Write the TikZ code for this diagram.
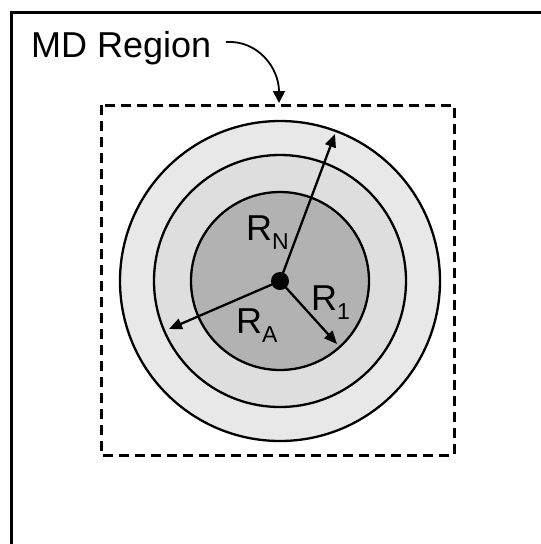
\documentclass[tikz,border=0pt]{standalone}
\usepackage{fontspec}
\setmainfont{Liberation Sans}
\usetikzlibrary{arrows.meta}
\tikzset{
  ring/.style={draw=black, line width=2.3pt},
  radius arrow/.style={line width=2.3pt, -{Triangle[length=13pt,width=11pt]}},
  lbl/.style={anchor=base west, inner sep=0pt, font=\fontsize{36}{36}\selectfont},
  frame/.style={line width=3pt},
  mdbox/.style={line width=3pt, dash pattern=on 10pt off 6pt},
}
\newcommand{\sbs}[1]{\raisebox{-9pt}{\fontsize{23}{23}\selectfont #1}}
\begin{document}
\begin{tikzpicture}[x=1pt,y=-1pt]
\useasboundingbox (0,0) rectangle (541,544);
% frame (left and top edges visible)
\draw[frame] (11.5,544) -- (11.5,12.5) -- (541,12.5);
% dashed MD region
\draw[mdbox] (101,105) rectangle (454,455);
% rings
\coordinate (c) at (280,281);
\fill[black!9] (c) circle (160);
\draw[ring] (c) circle (160);
\fill[black!13] (c) circle (126);
\draw[ring] (c) circle (126);
\fill[black!30] (c) circle (89);
\draw[ring] (c) circle (89);
% radius arrows
\coordinate (rn) at (335,134);
\coordinate (r1) at (337,344);
\coordinate (ra) at (169,329);
\draw[radius arrow] (c) -- (rn);
\draw[radius arrow] (c) -- (r1);
\draw[radius arrow] (c) -- (ra);
\fill (c) circle (9);
% labels
\node[lbl] (lrn) at (246,240) {R\sbs{N}};
\node[lbl] (lra) at (236,333) {R\sbs{A}};
\node[lbl] (lr1) at (311,310) {R\sbs{1}};
% title
\node[lbl] (md) at (31,57) {MD Region};
\coordinate (mdtip) at (279,103);
\draw[line width=1.8pt, -{Triangle[length=12pt,width=12pt]}] (226,42) .. controls (258,40) and (279,68) .. (mdtip);
\end{tikzpicture}
\end{document}
